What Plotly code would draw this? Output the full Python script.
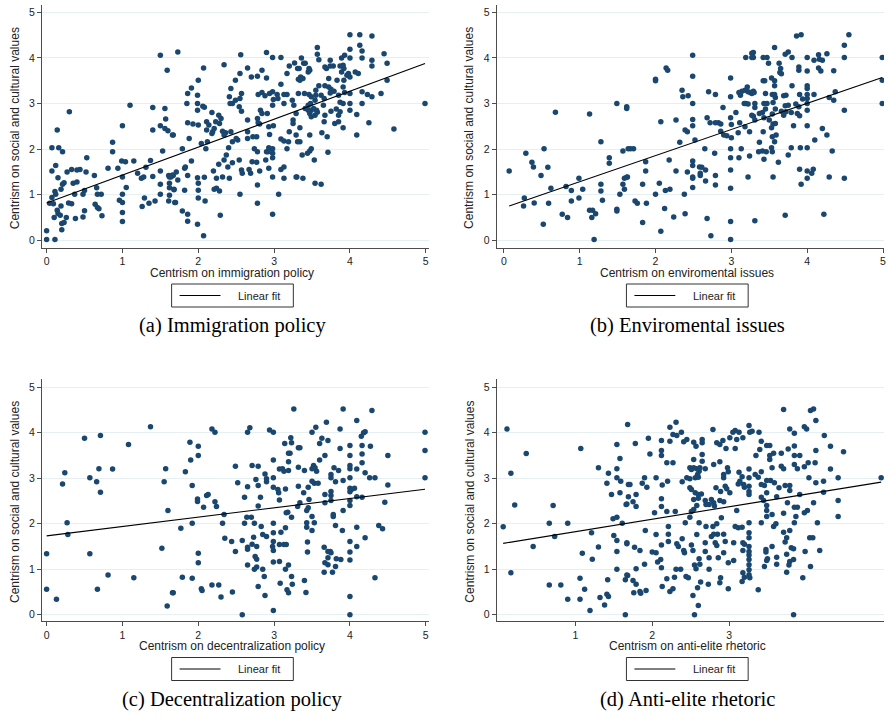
import numpy as np
import plotly.graph_objects as go

# ---------------- data ----------------
a_pts = [
(0.0,0.21),(0.0,0.02),(0.11,0.02),(0.30,2.82),(0.14,2.42),(0.07,2.03),(0.16,2.03),(0.21,1.94),(0.07,1.52),(0.12,1.64),
(0.15,1.37),(0.11,1.07),(0.12,1.01),(0.07,0.94),(0.04,0.81),(0.09,0.80),(0.19,1.12),(0.21,1.23),(0.23,1.26),(0.27,1.50),
(0.33,1.55),(0.40,1.54),(0.44,1.55),(0.35,1.25),(0.40,1.28),(0.53,1.81),(0.52,1.50),(0.63,1.42),(0.48,1.01),(0.50,1.09),
(0.37,1.01),(0.29,0.82),(0.33,0.80),(0.14,0.66),(0.15,0.59),(0.18,0.55),(0.10,0.50),(0.20,0.37),(0.23,0.39),(0.20,0.23),
(0.26,0.50),(0.19,0.75),(0.38,0.48),(0.48,0.51),(0.50,0.65),(0.64,0.79),(0.67,0.72),(0.69,0.69),(0.73,0.54),(0.66,1.15),
(0.67,1.01),(0.72,1.01),(0.81,1.58),(0.87,1.94),(0.87,2.15),(0.94,1.58),(0.96,0.88),(1.00,2.51),(0.99,1.74),(1.04,1.72),
(1.00,1.39),(1.05,1.16),(1.00,1.01),(1.00,0.83),(1.00,0.61),(1.00,0.41),(1.10,2.96),(1.15,1.74),(1.20,1.47),(1.25,1.36),
(1.28,1.39),(1.31,1.60),(1.37,1.75),(1.29,0.93),(1.26,0.74),(1.35,0.81),(1.43,0.86),(1.40,2.91),(1.40,2.42),(1.50,4.06),
(1.59,3.73),(1.56,2.89),(1.57,2.66),(1.50,2.51),(1.56,2.45),(1.60,2.40),(1.67,2.31),(1.53,1.96),(1.50,1.52),(1.40,1.40),
(1.50,1.23),(1.50,1.01),(1.61,1.42),(1.64,1.39),(1.67,1.42),(1.62,1.15),(1.68,1.11),(1.61,0.86),(1.69,0.83),
(1.73,4.13),(2.07,3.78),(2.00,3.51),(1.91,3.34),(1.86,3.22),(1.99,3.18),(1.85,3.00),(1.99,3.00),(2.06,2.94),(2.08,2.92),
(1.99,2.85),(2.18,2.80),(1.86,2.58),(1.93,2.55),(2.00,2.53),(2.11,2.60),(2.14,2.53),(2.11,2.42),(2.18,2.34),(2.21,2.45),
(2.23,2.60),(2.27,2.74),(2.30,2.67),(2.28,2.56),(2.32,2.39),(2.34,2.31),(2.36,2.36),(2.43,2.38),(2.19,2.38),(1.66,2.31),
(1.88,2.23),(2.04,2.12),(2.10,2.01),(2.12,2.16),(1.79,2.01),(1.91,1.74),(1.83,1.61),(1.82,1.58),(1.71,1.50),(1.66,1.43),
(1.62,1.39),(1.73,1.32),(1.62,1.25),(1.68,1.12),(1.82,1.10),(1.86,1.42),(1.99,1.37),(2.00,1.25),(2.00,1.10),(2.08,1.38),
(2.00,0.93),(2.09,0.86),(1.62,0.99),(1.70,0.83),(1.79,0.64),(1.86,0.57),(1.86,0.42),(1.99,0.35),(2.07,0.10),(2.20,1.52),
(2.24,1.36),(2.32,1.39),(2.27,1.67),(2.34,1.76),(2.37,1.87),(2.40,2.03),(2.39,1.61),(2.41,1.36),(2.45,1.70),(2.24,1.14),
(2.21,1.12),(2.28,1.08),(2.29,0.55),(2.34,3.85),(2.56,4.07),(2.43,3.33),(2.41,3.15),(2.42,3.00),(2.45,3.00),(2.49,3.07),
(2.49,3.51),(2.55,3.66),(2.57,3.22),(2.55,3.11),(2.54,2.93),(2.57,2.83),(2.65,3.78),(2.65,2.64),(2.50,2.23),(2.52,2.20),
(2.45,2.16),(2.54,1.76),(2.57,1.54),(2.58,1.47),(2.65,2.38),(2.65,2.23),(2.67,1.55),(2.69,1.47),(2.71,1.72),(2.55,1.01),
(2.70,3.58),(2.78,3.60),(2.84,3.73),(2.90,4.12),(2.98,4.01),(3.09,4.01),(2.90,3.56),(2.79,3.20),(2.84,3.24),(2.88,3.17),
(2.94,3.22),(2.98,3.26),(2.99,3.09),(3.04,3.20),(3.05,3.11),(3.13,3.20),(3.17,3.20),(3.09,3.42),(3.17,3.66),(3.20,3.82),
(3.27,3.89),(3.31,3.77),(3.32,3.53),(3.32,3.22),(3.24,3.07),(3.26,2.96),(3.13,3.00),(2.98,2.96),(2.82,2.85),(2.84,2.78),
(2.91,2.78),(2.78,2.67),(2.79,2.58),(2.81,2.55),(2.93,2.49),(2.99,2.51),(2.94,2.32),(2.77,2.27),(2.72,2.27),(2.74,2.01),
(2.78,1.94),(2.77,1.71),(2.81,1.52),(2.78,1.21),(2.78,0.81),(2.93,2.03),(2.90,1.94),(2.92,1.94),(2.94,2.01),(2.98,2.01),
(2.98,1.91),(2.98,1.81),(2.89,1.76),(2.93,1.58),(2.98,1.39),(2.98,0.57),(3.06,1.01),(3.09,1.55),(3.13,1.61),(3.13,1.36),
(3.09,2.22),(3.13,2.18),(3.19,2.16),(3.17,2.01),(3.20,2.38),(3.25,2.64),(3.25,2.56),(3.29,2.78),(3.29,2.31),(3.31,2.16),
(3.29,1.39),
(4.00,4.51),(4.13,4.51),(4.29,4.48),(3.57,4.23),(3.57,4.08),(3.59,3.96),(3.36,4.00),(3.39,3.88),(3.41,3.88),(3.33,3.77),
(3.46,3.77),(3.47,3.73),(3.45,3.69),(3.35,3.58),(3.38,3.55),(3.34,3.51),(3.67,3.80),(3.69,3.77),(3.74,3.95),(3.74,3.82),
(3.78,3.82),(3.87,3.82),(3.89,4.00),(3.93,4.06),(4.00,4.19),(4.00,4.00),(4.13,4.28),(4.16,4.15),(4.16,4.00),(4.29,3.95),
(4.29,3.82),(4.45,4.09),(4.49,3.88),(3.91,3.84),(3.92,3.77),(3.89,3.69),(3.96,3.62),(3.98,3.66),(4.00,3.58),(4.07,3.69),
(4.11,3.66),(3.72,3.55),(3.83,3.51),(3.92,3.51),(4.49,3.51),(3.59,3.39),(3.67,3.39),(3.72,3.36),(3.75,3.31),(3.79,3.27),
(3.91,3.36),(3.93,3.24),(4.00,3.22),(4.16,3.26),(4.23,3.20),(4.29,3.15),(4.41,3.22),(3.40,3.22),(3.46,3.20),(3.49,3.15),
(3.55,3.18),(3.55,3.29),(3.62,3.18),(3.66,3.11),(3.74,3.23),(3.85,3.18),(3.87,3.03),(3.91,3.00),(4.00,3.00),(4.16,3.00),
(4.99,3.00),(3.45,2.96),(3.48,3.00),(3.54,3.07),(3.41,2.89),(3.45,2.85),(3.49,2.85),(3.52,2.89),(3.56,2.85),(3.47,2.78),
(3.49,2.71),(3.54,2.74),(3.57,2.81),(3.65,2.96),(3.67,2.74),(3.75,2.83),(3.82,2.88),(3.87,2.82),(4.00,2.85),(3.85,2.74),
(3.80,2.56),(3.85,2.60),(3.91,2.47),(4.09,2.76),(4.25,2.58),(4.58,2.44),(3.66,2.60),(3.34,2.47),(3.47,2.31),(3.34,2.16),
(3.63,2.36),(3.70,2.27),(4.09,2.31),(3.71,1.93),(3.49,2.01),(3.47,1.96),(3.44,1.91),(3.37,1.87),(3.53,1.76),(3.30,1.39),
(3.38,1.36),(3.54,1.25),(3.62,1.23),
]

b_pts = [
(0.07,1.52),(0.29,1.91),(0.37,1.71),(0.39,1.61),(0.49,1.42),(0.53,2.01),(0.58,1.60),(0.68,2.81),(0.27,0.93),(0.26,0.75),
(0.40,0.82),(0.52,0.35),(0.59,0.81),(0.62,1.14),(0.77,0.57),(0.82,1.18),(0.84,0.50),(0.89,1.09),(0.89,0.86),(0.99,0.93),
(0.99,1.36),(1.04,1.12),(1.13,2.77),(1.13,0.66),(1.17,0.66),(1.16,0.50),(1.21,0.58),(1.19,0.02),(1.28,2.16),(1.28,1.23),
(1.28,1.08),(1.30,0.88),(1.39,1.81),(1.39,1.69),(1.49,3.00),(1.49,0.68),(1.49,0.64),(1.53,1.01),(1.57,1.96),(1.57,1.23),
(1.59,1.12),(1.59,1.36),(1.62,1.38),(1.62,2.93),(1.62,2.89),(1.64,2.01),
(2.49,4.06),(2.14,3.78),(2.16,3.73),(2.00,3.53),(2.00,3.50),(2.49,3.60),(2.35,3.29),(2.36,3.15),(2.43,3.17),(2.49,3.00),
(2.70,3.26),(2.79,3.20),(2.99,3.56),(2.99,3.15),(3.19,4.01),(3.27,4.01),(3.27,4.10),(3.10,3.24),(3.12,3.18),(3.14,3.27),
(3.18,3.29),(3.21,3.36),(3.22,3.26),(3.25,3.24),(3.27,3.22),(3.17,3.00),(3.19,3.00),(3.22,2.99),(2.89,2.91),(2.99,2.69),
(3.06,2.80),(3.00,2.54),(3.11,2.58),(3.18,2.49),(3.27,2.74),(3.24,2.38),(3.09,2.36),(2.90,2.31),(2.83,2.58),(2.86,2.55),
(2.86,2.39),(2.94,2.29),(3.00,2.25),(2.68,2.69),(2.72,2.58),(2.79,2.58),(2.49,2.65),(2.49,2.51),(2.27,2.64),(2.07,2.60),
(2.39,2.42),(2.42,2.38),(2.52,2.20),(2.32,2.15),(2.65,2.01),(2.78,1.91),(2.99,2.01),(3.13,2.01),(2.99,1.81),(3.10,1.81),
(3.24,1.85),(1.67,2.01),(1.71,2.01),(1.87,1.72),(2.18,1.76),(1.87,1.52),(1.63,1.39),(1.83,1.23),(2.05,1.25),(2.27,1.52),
(2.42,1.50),(2.49,1.74),(2.49,1.64),(2.49,1.39),(2.49,1.36),(2.58,1.61),(2.61,1.60),(2.59,1.47),(2.59,1.42),(2.66,1.54),
(2.66,1.30),(2.49,1.16),(2.79,1.42),(2.79,1.21),(2.99,1.54),(2.99,1.14),(3.22,1.39),(2.13,1.09),(2.19,1.12),(2.00,1.01),
(2.38,1.01),(1.73,0.86),(1.76,0.81),(1.88,0.81),(2.12,0.70),(2.24,0.51),(2.39,0.58),(1.83,0.39),(2.07,0.20),(2.68,0.48),
(2.73,0.10),(2.99,0.41),(2.99,0.02),
(3.86,4.48),(3.92,4.51),(4.55,4.51),(4.49,4.28),(4.49,4.01),(4.99,4.01),(3.57,4.23),(3.29,4.12),(3.29,4.01),(3.42,4.01),
(3.47,4.01),(3.49,3.88),(3.71,4.08),(3.75,4.13),(3.80,4.01),(4.00,4.01),(4.15,4.07),(4.26,4.09),(4.09,3.95),(4.16,3.97),
(4.20,3.95),(3.63,3.88),(3.65,3.77),(3.64,3.68),(3.66,3.65),(3.89,3.80),(3.89,3.73),(4.00,3.71),(4.15,3.78),(4.18,3.71),
(4.35,3.72),(3.53,3.56),(3.57,3.50),(3.42,3.50),(3.44,3.50),(3.80,3.39),(3.57,3.39),(4.00,3.39),(4.00,3.33),(3.29,3.27),
(3.30,3.24),(3.45,3.22),(3.54,3.20),(3.57,3.20),(3.58,3.13),(3.69,3.17),(3.72,3.18),(3.90,3.20),(4.00,3.20),(4.09,3.20),
(3.94,3.10),(4.00,3.11),(4.29,3.13),(4.37,3.26),(4.35,3.07),(3.31,3.00),(3.43,3.00),(3.47,3.00),(3.55,3.02),(3.71,2.95),
(3.75,2.96),(3.85,2.99),(3.89,2.93),(4.00,3.00),(4.99,3.00),(4.99,3.51),(3.31,2.91),(3.45,2.88),(3.58,2.88),(3.66,2.83),
(3.72,2.82),(3.79,2.80),(3.87,2.78),(3.90,2.73),(4.00,2.85),(4.49,2.85),(3.29,2.72),(3.37,2.78),(3.41,2.80),(3.43,2.69),
(3.50,2.64),(3.54,2.77),(3.55,2.55),(3.58,2.56),(3.69,2.74),(3.31,2.64),(3.82,2.51),(4.00,2.51),(4.20,2.45),(4.26,2.31),
(4.10,2.20),(3.42,2.38),(3.53,2.47),(3.54,2.27),(3.57,2.16),(3.59,2.31),(3.37,2.15),(3.53,2.03),(3.54,1.94),(3.36,1.94),
(3.41,1.96),(3.46,1.94),(3.43,1.78),(3.62,1.71),(3.75,1.87),(3.79,2.03),(3.91,2.03),(4.00,2.03),(4.33,1.96),(3.55,1.39),
(3.90,1.56),(4.00,1.52),(4.00,1.36),(3.92,1.23),(4.06,1.47),(4.08,1.56),(4.29,1.39),(4.49,1.36),(3.31,0.43),(3.71,0.55),
(4.22,0.57),
]

c_pts = [
(0.0,1.34),(0.0,0.56),(0.13,0.34),(0.21,2.87),(0.24,3.12),(0.27,2.02),(0.28,1.76),(0.50,3.88),(0.71,3.94),(0.57,3.01),
(0.66,2.92),(0.69,3.21),(0.71,2.69),(0.87,3.20),(0.57,1.34),(0.67,0.56),(0.81,0.87),(1.08,3.74),(1.15,0.81),(1.37,4.13),
(1.57,3.21),(1.55,2.92),(1.60,2.29),(1.52,1.46),(1.59,0.19),(1.67,0.48),
(2.18,4.08),(2.22,4.01),(2.65,4.01),(2.68,4.11),(2.94,4.06),(2.99,4.01),(3.26,4.52),(1.89,3.79),(2.00,3.70),(2.00,3.50),
(1.90,3.40),(1.83,3.14),(1.92,2.84),(1.99,2.54),(1.99,2.49),(2.07,2.36),(2.11,2.62),(2.13,2.64),(2.22,2.48),(2.24,2.38),
(2.34,2.20),(2.32,2.01),(1.92,2.01),(1.77,1.90),(2.35,1.68),(2.44,1.61),(2.49,1.39),(2.00,1.35),(2.00,1.14),(1.79,0.82),
(1.92,0.80),(1.66,0.48),(2.04,0.57),(2.05,0.53),(2.18,0.65),(2.27,0.65),(2.30,0.39),(2.45,0.50),(2.58,0.00),(2.49,3.26),
(2.52,2.90),(2.71,3.28),(2.79,3.26),(2.65,2.81),(2.61,2.58),(2.76,2.97),(2.79,2.84),(2.82,2.58),(2.88,3.09),(2.90,2.99),
(2.90,2.92),(2.99,3.40),(2.99,3.01),(2.99,2.80),(3.05,2.75),(3.06,2.68),(3.07,2.52),(3.15,2.76),(3.07,3.20),(3.11,3.21),
(3.13,3.15),(3.19,3.17),(3.19,3.36),(3.19,3.55),(3.21,3.55),(3.14,3.76),(3.22,3.89),(3.23,3.78),(3.32,3.67),(3.32,3.24),
(3.32,2.82),(3.31,2.38),(3.18,2.25),(3.16,2.24),(3.23,2.14),(2.79,2.39),(2.64,2.14),(2.70,2.14),(2.61,2.01),(2.74,2.01),
(2.83,1.94),(2.99,2.01),(3.15,1.91),(2.58,1.63),(2.65,1.48),(2.65,1.44),(2.71,1.55),(2.73,1.70),(2.77,1.50),(2.85,1.76),
(2.90,1.72),(2.99,1.80),(2.99,1.61),(2.98,1.50),(2.99,1.41),(3.07,1.54),(3.09,1.81),(3.13,1.54),(3.16,1.54),(2.75,1.28),
(2.77,1.22),(2.65,1.09),(2.77,1.05),(2.74,1.00),(2.85,1.00),(2.99,1.16),(3.07,1.17),(3.15,1.00),(3.19,1.09),(2.87,0.84),
(2.79,0.62),(2.88,0.42),(2.99,0.09),(3.08,0.69),(3.17,0.55),(3.19,0.48),(3.24,0.67),(3.23,0.84),
(3.91,4.52),(4.29,4.49),(3.69,4.23),(3.55,4.12),(3.50,4.01),(3.87,4.08),(4.09,4.27),(4.18,4.00),(4.20,4.02),(4.15,3.92),
(3.63,3.88),(3.71,3.83),(3.60,3.76),(3.34,3.67),(3.87,3.65),(4.00,3.72),(4.16,3.72),(4.27,3.70),(4.99,4.01),(4.99,3.61),
(4.99,3.01),(4.50,3.50),(3.67,3.50),(3.60,3.40),(4.00,3.50),(4.16,3.53),(4.16,3.34),(4.00,3.28),(4.00,3.21),(4.09,3.20),
(4.20,3.12),(3.52,3.28),(3.54,3.23),(3.50,3.21),(3.56,3.15),(3.40,3.17),(3.79,3.23),(3.85,3.17),(3.75,3.08),(3.75,3.01),
(3.81,2.92),(3.91,2.95),(4.00,3.01),(4.26,3.01),(4.33,3.01),(4.50,2.85),(3.50,2.93),(3.53,2.89),(3.58,2.89),(3.45,2.80),
(3.39,2.68),(3.67,2.64),(3.75,2.71),(3.75,2.62),(4.00,2.78),(4.02,2.75),(4.06,2.78),(4.00,2.70),(4.09,2.59),(4.16,2.58),
(3.46,2.53),(3.34,2.46),(3.67,2.46),(3.75,2.51),(4.00,2.51),(4.00,2.40),(4.46,2.47),(3.45,2.35),(3.43,2.29),(3.50,2.16),
(3.78,2.20),(3.78,2.16),(3.91,2.29),(3.43,2.02),(3.43,1.92),(3.53,2.02),(3.50,1.85),(3.81,1.96),(3.90,1.85),(4.09,1.92),
(4.38,1.96),(4.43,1.89),(4.20,1.69),(3.44,1.60),(3.44,1.38),(3.66,1.48),(3.71,1.39),(3.74,1.39),(3.75,1.36),(3.71,1.25),
(3.67,1.14),(3.71,1.10),(3.82,1.23),(3.88,1.21),(3.81,1.06),(3.66,0.93),(3.77,0.93),(4.00,1.61),(4.09,1.50),(4.00,1.38),
(4.00,1.20),(4.33,0.81),(3.40,0.75),(3.42,0.49),(4.00,0.40),(4.00,0.00),
]

d_pts = [
(0.11,4.08),(0.06,1.93),(0.16,3.11),(0.21,2.41),(0.16,0.92),(0.36,3.54),(0.45,1.50),(0.66,2.01),(0.71,2.40),(0.73,1.72),
(0.66,0.65),(0.81,0.65),(0.90,2.01),(0.90,0.34),(1.06,0.34),(1.06,0.80),(1.12,0.56),(1.07,3.65),(1.09,1.35),(1.19,0.09),
(1.21,1.80),(1.22,1.22),(1.30,3.23),(1.30,1.49),(1.32,0.38),(1.38,0.21),(1.41,2.89),(1.43,3.11),(1.42,0.77),(1.41,0.45),
(1.43,0.40),(1.47,2.64),(1.49,2.11),(1.50,1.74),(1.54,3.74),(1.54,3.21),(1.54,3.01),(1.54,2.14),(1.54,1.63),(1.54,1.39),
(1.54,1.00),(1.58,3.43),(1.59,2.93),(1.58,2.68),(1.61,2.01),(1.66,2.42),(1.67,1.56),(1.65,0.77),(1.67,0.87),(1.69,2.86),
(1.65,0.00),
(1.68,4.18),(1.78,3.76),(1.95,3.88),(1.97,3.53),(2.12,3.83),(2.12,3.61),(2.12,3.50),(2.19,3.34),(2.27,3.34),(2.23,4.12),
(2.31,4.23),(2.27,3.96),(2.32,3.94),(2.38,4.01),(2.23,3.81),(2.41,3.80),(2.45,3.85),(2.54,3.79),(2.57,3.70),(2.65,3.85),
(2.65,3.78),(2.65,3.52),(2.65,3.37),(2.54,3.41),(2.79,4.07),(2.84,3.78),(2.92,3.83),(2.88,3.74),(2.96,3.65),(3.01,3.89),
(3.05,4.01),(3.08,4.05),(3.10,3.85),(3.13,4.01),(3.18,3.89),(3.26,4.16),(3.27,4.01),(3.08,3.65),(2.80,3.30),(2.88,3.36),
(2.98,3.23),(2.99,3.14),(2.93,3.08),(3.13,3.13),(3.17,3.03),(3.26,3.20),(3.26,3.01),(3.26,2.82),(3.26,2.71),(3.26,2.64),
(3.20,2.80),(3.12,2.87),(3.14,2.93),(3.19,2.86),(2.49,3.23),(2.51,3.19),(2.54,3.23),(2.58,3.21),(2.62,3.23),(2.61,3.15),
(2.59,3.08),(2.45,3.01),(2.49,2.99),(2.56,3.01),(2.60,3.02),(2.69,3.21),(1.90,3.01),(2.05,3.01),(2.20,2.93),(1.87,2.89),
(1.93,2.80),(1.71,2.86),(2.13,2.85),(2.39,2.92),(2.93,3.01),(2.95,2.82),(2.83,2.79),(2.89,2.71),(2.97,2.77),(3.01,2.68),
(2.49,2.79),(2.51,2.75),(2.56,2.68),(2.60,2.64),(2.64,2.65),(2.54,2.53),(2.60,2.56),(2.69,2.51),(2.70,2.42),(2.77,2.53),
(2.80,2.46),(2.81,2.39),(2.88,2.51),(2.93,2.48),(2.58,2.40),(2.74,2.42),(1.69,2.59),(1.79,2.64),(1.67,2.43),(1.75,2.48),
(1.79,2.38),(2.12,2.55),(2.12,2.38),(2.19,2.27),(2.30,2.27),(2.03,2.24),(2.51,2.27),(2.54,2.31),(2.49,2.14),(2.43,2.02),
(3.10,2.29),(3.26,2.02),(2.61,2.02),(2.70,1.94),(2.79,1.94),(2.84,2.00),(2.90,2.13),(3.08,1.94),(3.12,1.91),(3.17,1.92),
(1.91,1.85),(2.05,1.76),(2.21,1.94),(2.21,1.77),(2.21,1.61),(2.39,1.67),(2.58,1.76),(2.77,1.72),(2.80,1.77),(2.85,1.77),
(2.93,1.77),(2.95,1.61),(3.06,1.58),(3.18,1.58),(3.20,1.55),(3.26,1.80),(3.26,1.69),(3.26,1.50),(1.67,1.58),(1.77,1.48),
(1.84,1.41),(2.00,1.38),(2.05,1.36),(2.12,1.53),(2.32,1.56),(2.34,1.50),(2.41,1.41),(2.42,1.36),(2.51,1.53),(2.53,1.41),
(2.69,1.58),(2.69,1.39),(2.82,1.58),(2.84,1.52),(2.93,1.36),(3.18,1.41),(3.26,1.39),(3.26,1.31),(1.90,1.11),(2.07,1.16),
(2.11,1.21),(2.12,1.03),(2.31,1.00),(2.37,1.00),(2.55,1.09),(2.57,1.01),(2.61,1.23),(2.62,1.11),(2.74,1.25),(2.74,1.00),
(2.86,1.25),(2.99,1.14),(3.06,1.19),(3.26,1.21),(3.26,1.10),(3.26,0.99),(3.26,0.88),(3.18,0.92),(3.20,0.82),(3.17,0.73),
(1.79,1.01),(1.68,0.86),(1.75,0.75),(1.79,0.67),(1.76,0.48),(1.84,0.51),(1.85,0.47),(1.92,0.53),(2.13,0.62),(2.19,0.79),
(2.23,0.51),(2.27,0.57),(2.29,0.82),(2.44,0.84),(2.47,0.81),(2.53,0.42),(2.60,0.20),(2.55,0.00),(2.59,0.59),(2.63,0.72),
(2.73,0.67),(2.89,0.81),(2.88,0.70),(2.99,0.57),(3.27,0.81),
(3.30,4.03),(3.39,4.01),(3.42,3.81),(3.40,3.63),(3.35,3.50),(3.49,3.72),(3.53,3.72),(3.53,3.50),(3.53,3.41),(3.58,3.55),
(3.56,3.23),(3.68,3.55),(3.71,4.51),(3.77,3.64),(3.79,4.08),(3.85,3.99),(3.85,3.71),(3.85,3.50),(3.92,3.50),(3.85,3.30),
(3.89,3.21),(3.98,3.25),(4.03,3.34),(4.12,3.34),(4.13,3.61),(3.98,4.13),(4.01,4.08),(4.06,4.49),(4.10,4.52),(4.13,4.27),
(4.24,3.94),(4.32,3.70),(4.49,3.58),(4.32,3.20),(4.42,3.01),(4.98,3.01),(4.23,2.93),(4.13,2.90),(4.04,3.01),(4.23,2.69),
(4.10,2.46),(4.42,2.51),(4.42,2.16),(4.15,2.02),(4.02,2.29),(3.98,2.24),(3.92,2.64),(3.89,2.36),(3.85,2.36),(3.87,2.16),
(3.85,2.02),(3.76,2.46),(3.71,2.23),(3.34,3.08),(3.38,3.02),(3.42,3.14),(3.42,2.86),(3.46,2.84),(3.49,2.95),(3.54,2.95),
(3.59,2.90),(3.65,2.79),(3.73,2.84),(3.79,2.84),(3.79,2.73),(3.68,3.26),(3.71,3.21),(3.49,2.68),(3.42,2.58),(3.45,2.51),
(3.62,2.59),(3.49,2.40),(3.49,2.29),(3.56,2.20),(3.49,2.16),(3.42,2.02),(3.61,2.00),(3.58,1.94),(3.71,1.81),(3.79,1.85),
(3.75,1.69),(3.73,1.60),(3.56,1.50),(3.48,1.43),(3.48,1.38),(3.62,1.26),(3.50,1.23),(3.49,1.19),(3.62,1.11),(3.46,1.06),
(3.75,1.33),(3.81,1.47),(3.84,1.45),(3.84,1.21),(3.79,1.17),(3.78,1.09),(3.75,0.93),(3.99,1.39),(4.05,1.69),(4.09,1.69),
(4.18,1.41),(4.06,1.06),(3.96,0.81),(3.38,0.55),(3.84,0.00),
]

x_titles = ["Centrism on immigration policy", "Centrism on enviromental issues",
            "Centrism on decentralization policy", "Centrism on anti-elite rhetoric"]
y_title = "Centrism on social and cultural values"
captions = ["(a) Immigration policy", "(b) Enviromental issues",
            "(c) Decentralization policy", "(d) Anti-elite rhetoric"]
x_ticks = [[0, 1, 2, 3, 4, 5], [0, 1, 2, 3, 4, 5], [0, 1, 2, 3, 4, 5], [1, 2, 3]]
y_ticks = [0, 1, 2, 3, 4, 5]
fit_label = "Linear fit"

# ---------------- layout geometry (pixels) ----------------
W, H = 887, 722
def px(x): return x / W
def py(y): return (H - y) / H

panels = [
    dict(xd=(42, 430), yd=(5, 247.5), xr=(-0.062, 5.043), yr=(-0.158, 5.16)),
    dict(xd=(497.7, 886), yd=(5, 247.5), xr=(-0.096, 5.013), yr=(-0.158, 5.16)),
    dict(xd=(42, 430), yd=(379, 621), xr=(-0.062, 5.043), yr=(-0.139, 5.18)),
    dict(xd=(497.7, 886), yd=(379, 621), xr=(-0.026, 5.017), yr=(-0.139, 5.18)),
]
all_pts = [a_pts, b_pts, c_pts, d_pts]

NAVY = "#1a476f"
GRID = "#e6eff1"
AX = "#4d4d4d"
SANS = "Liberation Sans, Arial, sans-serif"
SERIF = "Liberation Serif, Times New Roman, serif"

fig = go.Figure()
layout = dict(width=W, height=H, margin=dict(l=0, r=0, t=0, b=0),
              paper_bgcolor="white", plot_bgcolor="white", showlegend=False)
annotations = []
shapes = []

for i, (p, pts) in enumerate(zip(panels, all_pts)):
    n = "" if i == 0 else str(i + 1)
    xs = np.array([q[0] for q in pts])
    ys = np.array([q[1] for q in pts])
    fig.add_trace(go.Scatter(x=xs, y=ys, mode="markers", xaxis="x" + n, yaxis="y" + n,
                             marker=dict(color=NAVY, size=5.5, line=dict(width=0)),
                             showlegend=False, hoverinfo="skip"))
    slope, icpt = np.polyfit(xs, ys, 1)
    lx = np.array([xs.min(), xs.max()])
    fig.add_trace(go.Scatter(x=lx, y=icpt + slope * lx, mode="lines", xaxis="x" + n, yaxis="y" + n,
                             line=dict(color="black", width=1.1), name=fit_label,
                             showlegend=False, hoverinfo="skip"))
    layout["xaxis" + n] = dict(domain=[px(p["xd"][0]), px(p["xd"][1])], range=list(p["xr"]),
                               anchor="y" + n, tickvals=x_ticks[i], ticks="outside", ticklen=4,
                               tickcolor=AX, showline=True, linecolor=AX, linewidth=1,
                               showgrid=False, zeroline=False, ticklabeloverflow="allow",
                               tickfont=dict(family=SANS, size=10.5, color="#222"))
    layout["yaxis" + n] = dict(domain=[py(p["yd"][1]), py(p["yd"][0])], range=list(p["yr"]),
                               anchor="x" + n, tickvals=y_ticks, ticks="outside", ticklen=4,
                               tickcolor=AX, showline=True, linecolor=AX, linewidth=1,
                               showgrid=True, gridcolor=GRID, gridwidth=1, zeroline=False,
                               ticklabeloverflow="allow",
                               tickfont=dict(family=SANS, size=10.5, color="#222"))
    cx = (p["xd"][0] + p["xd"][1]) / 2 - 3
    yb = p["yd"][1]
    # x-axis title
    annotations.append(dict(x=px(cx), y=py(yb + 25), xref="paper", yref="paper",
                            xanchor="center", yanchor="middle",
                            text=x_titles[i], showarrow=False,
                            font=dict(family=SANS, size=12, color="#222")))
    # y-axis title
    annotations.append(dict(x=px(p["xd"][0] - 27), y=py((p["yd"][0] + p["yd"][1]) / 2 + 2),
                            xref="paper", yref="paper", xanchor="center", yanchor="middle",
                            text=y_title, textangle=-90,
                            showarrow=False, font=dict(family=SANS, size=12, color="#222")))
    # caption
    annotations.append(dict(x=px(cx), y=py(yb + 78), xref="paper", yref="paper",
                            xanchor="center", yanchor="middle",
                            text=captions[i], showarrow=False,
                            font=dict(family=SERIF, size=20.5, color="black")))
    # legend box (key for the fitted line)
    lx0, lx1 = cx - 61, cx + 61
    ly0, ly1 = yb + 36.5, yb + 59.5
    lym = (ly0 + ly1) / 2
    shapes.append(dict(type="rect", xref="paper", yref="paper",
                       x0=px(lx0), x1=px(lx1), y0=py(ly1), y1=py(ly0),
                       line=dict(color="#333", width=1), fillcolor="white"))
    shapes.append(dict(type="line", xref="paper", yref="paper",
                       x0=px(lx0 + 8), x1=px(lx0 + 49), y0=py(lym), y1=py(lym),
                       line=dict(color="black", width=1.1)))
    annotations.append(dict(x=px(lx0 + 65), y=py(lym), xref="paper", yref="paper",
                            xanchor="left", yanchor="middle", text=fit_label, showarrow=False,
                            font=dict(family=SANS, size=11, color="#222")))

layout["annotations"] = annotations
layout["shapes"] = shapes
fig.update_layout(**layout)
fig.write_html("out.html", config={"displayModeBar": False},
               post_script="document.body.style.margin='0';")
